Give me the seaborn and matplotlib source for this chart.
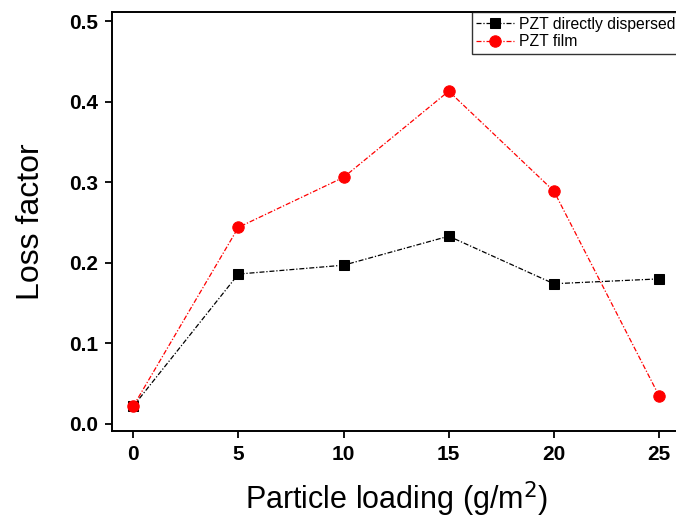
import pandas as pd
import matplotlib
matplotlib.use("Agg")
import matplotlib.pyplot as plt
import seaborn as sns

sns.set_style("white")
plt.rcParams['font.family'] = ['Liberation Sans', 'DejaVu Sans']
plt.rcParams['text.color'] = 'black'
plt.rcParams['axes.labelcolor'] = 'black'
plt.rcParams['xtick.color'] = 'black'
plt.rcParams['ytick.color'] = 'black'

loading = [0, 5, 10, 15, 20, 25]
direct = [0.022, 0.186, 0.197, 0.233, 0.174, 0.180]
film = [0.022, 0.244, 0.306, 0.413, 0.289, 0.035]

fig = plt.figure(figsize=(6.76, 5.31), dpi=100)
ax = fig.add_axes([0.166, 0.188, 0.84, 0.789])

sns.lineplot(x=loading, y=direct, ax=ax, color="black", marker="s", markersize=7.2,
             markeredgecolor="black", linewidth=0.9, label="PZT directly dispersed")
ax.lines[-1].set_dashes((4, 1.5, 1, 1.5))
sns.lineplot(x=loading, y=film, ax=ax, color="red", marker="o", markersize=8.2,
             markeredgecolor="red", linewidth=0.9, label="PZT film")
ax.lines[-1].set_dashes((4, 1.5, 1, 1.5))

ax.set_xlim(-1, 26)
ax.set_ylim(-0.009, 0.511)
ax.set_xticks([0, 5, 10, 15, 20, 25])
ax.set_yticks([0.0, 0.1, 0.2, 0.3, 0.4, 0.5])
ax.set_yticklabels(["0.0", "0.1", "0.2", "0.3", "0.4", "0.5"])

for s in ["left", "bottom", "top"]:
    ax.spines[s].set_linewidth(1.4)
    ax.spines[s].set_color("black")
ax.spines["right"].set_visible(False)

ax.tick_params(axis="both", direction="out", length=5, width=1.3, color="black",
               labelcolor="black", labelsize=15, pad=5, bottom=True, left=True)
for lab in ax.get_xticklabels() + ax.get_yticklabels():
    lab.set_fontweight("bold")

ax.set_xlabel("Particle loading (g/m$^2$)", fontsize=22, labelpad=11, color="black")
ax.set_ylabel("Loss factor", fontsize=23, labelpad=17, color="black")

leg = ax.legend(loc="upper right", bbox_to_anchor=(1.0, 1.0), borderaxespad=0,
                fontsize=11.3, frameon=True, fancybox=False, handlelength=2.4,
                handletextpad=0.3, borderpad=0.3, labelspacing=0.15)
leg.get_frame().set_edgecolor("black")
leg.get_frame().set_linewidth(1.0)
for t in leg.get_texts():
    t.set_color("black")

fig.savefig("out.png", dpi=100)
